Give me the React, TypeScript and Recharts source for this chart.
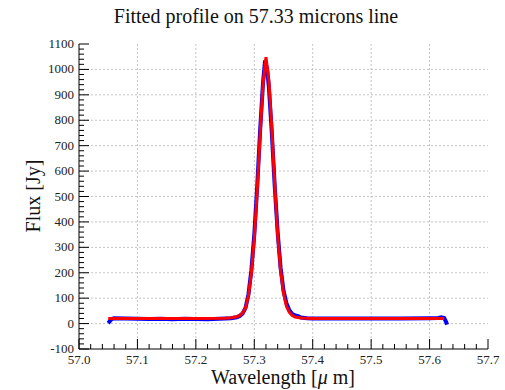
import React from 'react';
import { LineChart, Line, XAxis, YAxis, CartesianGrid } from 'recharts';

// Observed spectrum (blue)
const obsWavelength = [
  57.05, 57.053, 57.056, 57.06, 57.08, 57.1, 57.12, 57.14, 57.16, 57.18, 57.2, 57.22, 57.24, 57.26,
  57.27, 57.275, 57.28, 57.285, 57.29, 57.295, 57.3, 57.305, 57.31, 57.315, 57.3185, 57.322, 57.325,
  57.33, 57.335, 57.34, 57.345, 57.35, 57.355, 57.36, 57.365, 57.37, 57.375, 57.38, 57.39, 57.4,
  57.45, 57.5, 57.55, 57.6, 57.615, 57.62, 57.625, 57.628, 57.63,
];
const obsFlux = [
  2, 10, 18, 21, 20, 19, 18, 19, 17, 19, 18, 17, 19, 21,
  25, 30, 40, 62, 115, 210, 350, 540, 760, 950, 1035, 1000, 930,
  750, 540, 360, 220, 130, 80, 52, 38, 32, 29, 24, 21, 20,
  20, 20, 20, 21, 22, 25, 22, 8, -4,
];

// Fitted profile (red)
const fitWavelength = [
  57.05, 57.1, 57.15, 57.2, 57.25, 57.26, 57.27, 57.275, 57.28, 57.285, 57.29, 57.295, 57.3, 57.305,
  57.31, 57.315, 57.32, 57.325, 57.33, 57.335, 57.34, 57.345, 57.35, 57.355, 57.36, 57.365, 57.37,
  57.38, 57.4, 57.5, 57.6, 57.625,
];
const fitFlux = [
  20, 20, 20, 20, 21, 23, 27, 32, 42, 62, 110, 200, 335, 525,
  745, 945, 1048, 955, 765, 545, 350, 210, 120, 68, 44, 32, 26,
  22, 20, 20, 20, 20,
];

const xMajorTicks = [57.0, 57.1, 57.2, 57.3, 57.4, 57.5, 57.6, 57.7];
const xTickLabels = ['57.0', '57.1', '57.2', '57.3', '57.4', '57.5', '57.6', '57.7'];
const yMajorTicks = [-100, 0, 100, 200, 300, 400, 500, 600, 700, 800, 900, 1000, 1100];
const yTickLabels = ['-100', '0', '100', '200', '300', '400', '500', '600', '700', '800', '900', '1000', '1100'];
const xGridValues = [57.1, 57.2, 57.3, 57.4, 57.5, 57.6];
const yGridValues = [0, 100, 200, 300, 400, 500, 600, 700, 800, 900, 1000];

const xAllTicks = Array.from({ length: 36 }, (_, i) => Math.round((57 + i * 0.02) * 100) / 100);
const yAllTicks = Array.from({ length: 61 }, (_, i) => -100 + i * 20);

const obsData = obsWavelength.map((w, i) => ({ w, f: obsFlux[i] }));
const fitData = fitWavelength.map((w, i) => ({ w, f: fitFlux[i] }));

const FONT = '"Liberation Serif", "Times New Roman", serif';
const SVG_FONT = 'Liberation Serif';
const AXIS = '#000';
const MAJOR = 10;
const MINOR = 5;

const xMajorIndex = (v: number) => xMajorTicks.findIndex((m) => Math.abs(m - v) < 1e-6);
const yMajorIndex = (v: number) => yMajorTicks.findIndex((m) => Math.abs(m - v) < 1e-6);

const BottomTick = (props: any) => {
  const { x, y, payload } = props;
  const idx = xMajorIndex(payload.value);
  const len = idx >= 0 ? MAJOR : MINOR;
  return (
    <g>
      <line x1={x} x2={x} y1={y} y2={y - len} stroke={AXIS} strokeWidth={1} />
      {idx >= 0 && (
        <text
          x={x}
          y={y + 15}
          textAnchor="middle"
          fontFamily={SVG_FONT}
          fontSize={13}
          style={{ fontFamily: SVG_FONT, fontSize: 13 }}
          fill="#222"
          stroke="none"
        >
          {xTickLabels[idx]}
        </text>
      )}
    </g>
  );
};

const TopTick = (props: any) => {
  const { x, y, payload } = props;
  const idx = xMajorIndex(payload.value);
  const len = idx >= 0 ? MAJOR : MINOR;
  return <line x1={x} x2={x} y1={y} y2={y + len} stroke={AXIS} strokeWidth={1} />;
};

const LeftTick = (props: any) => {
  const { x, y, payload } = props;
  const idx = yMajorIndex(payload.value);
  const len = idx >= 0 ? MAJOR : MINOR;
  return (
    <g>
      <line x1={x} x2={x + len} y1={y} y2={y} stroke={AXIS} strokeWidth={1} />
      {idx >= 0 && (
        <text
          x={x - 5}
          y={y + 4}
          textAnchor="end"
          fontFamily={SVG_FONT}
          fontSize={13}
          style={{ fontFamily: SVG_FONT, fontSize: 13 }}
          fill="#222"
          stroke="none"
        >
          {yTickLabels[idx]}
        </text>
      )}
    </g>
  );
};

const RightTick = (props: any) => {
  const { x, y, payload } = props;
  const idx = yMajorIndex(payload.value);
  const len = idx >= 0 ? MAJOR : MINOR;
  return <line x1={x} x2={x - len} y1={y} y2={y} stroke={AXIS} strokeWidth={1} />;
};

export default function App() {
  return (
    <div style={{ position: 'absolute', left: 0, top: 0, width: 505, height: 390, background: '#fff' }}>
      <LineChart width={505} height={390} margin={{ top: 44, right: 17, bottom: 11, left: 19 }}>
        <CartesianGrid
          xAxisId="b"
          yAxisId="l"
          horizontalValues={yGridValues}
          verticalValues={xGridValues}
          stroke="#c4c4c4"
          strokeDasharray="2 2"
        />
        <XAxis
          xAxisId="b"
          dataKey="w"
          type="number"
          domain={[57.0, 57.7]}
          allowDataOverflow
          ticks={xAllTicks}
          interval={0}
          tickSize={0}
          tickMargin={0}
          tickLine={false}
          tick={<BottomTick />}
          height={30}
          axisLine={{ stroke: AXIS }}
        />
        <XAxis
          xAxisId="t"
          orientation="top"
          dataKey="w"
          type="number"
          domain={[57.0, 57.7]}
          allowDataOverflow
          ticks={xAllTicks}
          interval={0}
          tickSize={0}
          tickMargin={0}
          tickLine={false}
          tick={<TopTick />}
          height={0}
          axisLine={{ stroke: AXIS }}
        />
        <YAxis
          yAxisId="l"
          type="number"
          domain={[-100, 1100]}
          allowDataOverflow
          ticks={yAllTicks}
          interval={0}
          tickSize={0}
          tickMargin={0}
          tickLine={false}
          tick={<LeftTick />}
          width={60}
          axisLine={{ stroke: AXIS }}
        />
        <YAxis
          yAxisId="r"
          orientation="right"
          type="number"
          domain={[-100, 1100]}
          allowDataOverflow
          ticks={yAllTicks}
          interval={0}
          tickSize={0}
          tickMargin={0}
          tickLine={false}
          tick={<RightTick />}
          width={0}
          axisLine={{ stroke: AXIS }}
        />
        <Line
          xAxisId="b"
          yAxisId="l"
          data={obsData}
          dataKey="f"
          type="linear"
          stroke="#0000ff"
          strokeWidth={4}
          dot={false}
          isAnimationActive={false}
        />
        <Line
          xAxisId="b"
          yAxisId="l"
          data={fitData}
          dataKey="f"
          type="linear"
          stroke="#ff0000"
          strokeWidth={3}
          dot={false}
          isAnimationActive={false}
        />
      </LineChart>
      <div
        style={{
          position: 'absolute', left: 0, width: 512, top: 4, textAlign: 'center',
          fontFamily: FONT, fontSize: 20, color: '#111', whiteSpace: 'nowrap', lineHeight: '24px',
        }}
      >
        Fitted profile on 57.33 microns line
      </div>
      <div
        style={{
          position: 'absolute', left: 0, width: 566, top: 368, textAlign: 'center',
          fontFamily: FONT, fontSize: 20, color: '#111', whiteSpace: 'nowrap', lineHeight: '18px',
        }}
      >
        Wavelength [<span style={{ fontStyle: 'italic' }}>μ</span> m]
      </div>
      <div
        style={{
          position: 'absolute', left: 33, top: 196, width: 0, height: 0,
        }}
      >
        <div
          style={{
            position: 'absolute', left: -60, top: -12, width: 120, textAlign: 'center',
            transform: 'rotate(-90deg)', fontFamily: FONT, fontSize: 20, color: '#111',
            whiteSpace: 'nowrap', lineHeight: '24px',
          }}
        >
          Flux [Jy]
        </div>
      </div>
    </div>
  );
}
